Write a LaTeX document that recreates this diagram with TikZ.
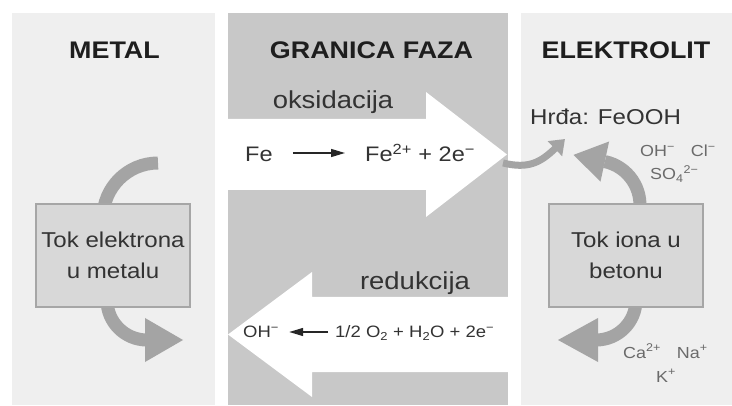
\documentclass[tikz,border=0pt]{standalone}
\usepackage{fontspec}
\setmainfont[FakeStretch=1.12]{Liberation Sans}
\usetikzlibrary{arrows.meta}
\definecolor{panelL}{HTML}{EFEFEF}
\definecolor{panelM}{HTML}{C8C8C8}
\definecolor{curv}{HTML}{A4A4A4}
\definecolor{boxfill}{HTML}{D8D8D8}
\definecolor{boxline}{HTML}{A6A6A6}
\definecolor{txt}{HTML}{333333}
\definecolor{hdr}{HTML}{1E1E1E}
\definecolor{ion}{HTML}{6A6A6A}
\begin{document}
\begin{tikzpicture}[x=1pt,y=1pt,
  header/.style={font=\fontsize{24}{28}\selectfont\bfseries, text=hdr, inner sep=0pt, anchor=base},
  proc/.style={font=\fontsize{24.5}{28}\selectfont, text=txt, inner sep=0pt, anchor=base},
  eq/.style={font=\fontsize{21}{25}\selectfont, text=txt, inner sep=0pt, anchor=base west},
  eqs/.style={font=\fontsize{16.5}{20}\selectfont, text=txt, inner sep=0pt, anchor=base west},
  ionlbl/.style={font=\fontsize{16}{19}\selectfont, text=ion, inner sep=0pt, anchor=base west},
  flowbox/.style={draw=boxline, line width=2pt, fill=boxfill, minimum width=154pt, minimum height=103pt, align=center, font=\fontsize{21.5}{31}\selectfont, text=txt, inner sep=0pt},
  curvearrow/.style={draw=curv, line width=13pt},
  headfill/.style={fill=curv},
  eqarrow/.style={draw=black!85, line width=1.3pt, -{Triangle[length=14pt,width=8pt]}},
]
\useasboundingbox (0,0) rectangle (732,405);
\fill[white] (0,0) rectangle (732,405);
% panels
\fill[panelL] (12,0) rectangle (215,392);
\fill[panelM] (228,0) rectangle (508,392);
\fill[panelL] (521,0) rectangle (732,392);
% big white arrows
\fill[white] (228,286) -- (426,286) -- (426,313) -- (507,250.5) -- (426,188) -- (426,215) -- (228,215) -- cycle;
\fill[white] (508,108) -- (312,108) -- (312,133) -- (228,70.5) -- (312,8) -- (312,33) -- (508,33) -- cycle;
% curved arrows (left)
\draw[curvearrow] (103,187) arc[start angle=180, end angle=90, radius=55];
\draw[curvearrow] (107,105) arc[start angle=180, end angle=270, radius=40] -- ++(1,0);
\fill[headfill] (145,87) -- (183,65) -- (145,43) -- cycle;
% curved arrows (right)
\draw[curvearrow] (636,105) arc[start angle=0, end angle=-90, radius=40] -- ++(-1,0);
\fill[headfill] (598,87) -- (558,65) -- (598,43) -- cycle;
\draw[curvearrow] (639.3,192.3) arc[start angle=-10, end angle=78, radius=44.4];
\fill[headfill] (609.1,263.5) -- (573.5,250.1) -- (600.5,223.4) -- cycle;
% small S arrow to rust
\draw[draw=curv, line width=7pt, -{Triangle[length=14pt,width=20pt]}] (503,242) .. controls (528,236) and (540,242) .. (565,266);
% boxes
\node[flowbox] (metalbox) at (113,149.5) {Tok elektrona\\u metalu};
\node[flowbox] (ionbox) at (626,149.5) {Tok iona u\\betonu};
% headers
\node[header] (hmetal) at (114.5,346) {METAL};
\node[header] (hgran) at (371.5,346) {GRANICA FAZA};
\node[header] (helek) at (626,346) {ELEKTROLIT};
% process labels
\node[proc] (oks) at (333,296) {oksidacija};
\node[proc] (red) at (415,115) {redukcija};
% oxidation equation
\node[eq] (fe) at (245,243) {Fe};
\node[eq] (fe2) at (365,243) {Fe\textsuperscript{2+} + 2e\textsuperscript{−}};
\draw[eqarrow] ([xshift=20pt,yshift=9pt]fe.base east) -- ([xshift=-20pt,yshift=9pt]fe2.base west);
% reduction equation
\node[eqs] (oh) at (243,67) {OH\textsuperscript{−}};
\node[eqs] (o2) at (335,67) {1/2 O\textsubscript{2} + H\textsubscript{2}O + 2e\textsuperscript{−}};
\draw[eqarrow] ([xshift=-7pt,yshift=6pt]o2.base west) -- ([xshift=10pt,yshift=6pt]oh.base east);
% electrolyte labels
\node[eq, font=\fontsize{21.5}{25}\selectfont] (hrda) at (530,280) {Hrđa: FeOOH};
\node[ionlbl] (ion1) at (640,248) {OH\textsuperscript{−}\quad Cl\textsuperscript{−}};
\node[ionlbl] (ion2) at (650,225) {SO\textsubscript{4}\textsuperscript{2−}};
\node[ionlbl] (ion3) at (623,47) {Ca\textsuperscript{2+}\quad Na\textsuperscript{+}};
\node[ionlbl] (ion4) at (656,23) {K\textsuperscript{+}};
\end{tikzpicture}
\end{document}
